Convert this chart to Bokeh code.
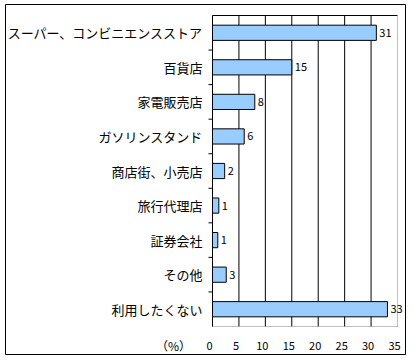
from bokeh.plotting import figure
from bokeh.models import ColumnDataSource, Range1d
from bokeh.core.properties import value
from bokeh.embed import file_html
from bokeh.resources import INLINE

categories = ["スーパー、コンビニエンスストア", "百貨店", "家電販売店", "ガソリンスタンド",
              "商店街、小売店", "旅行代理店", "証券会社", "その他", "利用したくない"]
values = [31.0, 15.0, 8.0, 6.0, 2.3, 1.2, 1.0, 2.6, 33.1]
value_labels = ["31", "15", "8", "6", "2", "1", "1", "3", "33"]
x_ticks = [0, 5, 10, 15, 20, 25, 30, 35]
x_tick_labels = ["0", "5", "10", "15", "20", "25", "30", "35"]
unit_label = "（%）"

JP = "Noto Sans CJK JP"

# layout
W, H = 406, 355
ML, MT, MR, MB = 5, 4, 1, 1
FW, FH = W - ML - MR, H - MT - MB
PX_L, PX_R = 207, 392     # frame x of 0 and of 35
PX_T, PX_B = 11, 322      # frame y of top and bottom of the category band
XMAX = x_ticks[-1]
n = len(categories)
Sx = (PX_R - PX_L) / XMAX
Sy = (PX_B - PX_T) / n

x_range = Range1d(-PX_L / Sx, XMAX + (FW - PX_R) / Sx)
y_range = Range1d(n + (FH - PX_B) / Sy, -PX_T / Sy)

p = figure(width=W, height=H, output_backend="svg", toolbar_location=None,
           x_range=x_range, y_range=y_range,
           min_border_left=ML, min_border_right=MR, min_border_top=MT, min_border_bottom=MB)
p.axis.visible = False
p.grid.visible = False
p.outline_line_color = "black"
p.outline_line_width = 1
p.background_fill_color = "white"
p.border_fill_color = "white"

centers = [i + 0.5 for i in range(n)]
src = ColumnDataSource(dict(y=centers, v=values, lab=value_labels, cat=categories))

# grid lines
grid_x = x_ticks[1:-1]
p.segment(x0=grid_x, x1=grid_x, y0=[0] * len(grid_x), y1=[n] * len(grid_x),
          line_color="black", line_width=1)
# top border (black), right & bottom border (grey dotted)
p.segment(x0=[0], x1=[XMAX], y0=[0], y1=[0], line_color="black", line_width=1)
p.segment(x0=[0], x1=[XMAX], y0=[n], y1=[n], line_color="#808080", line_width=1, line_dash="1 1")
p.segment(x0=[XMAX], x1=[XMAX], y0=[0], y1=[n], line_color="#808080", line_width=1, line_dash="1 1")
# category axis line and boundary ticks
p.segment(x0=[0], x1=[0], y0=[0], y1=[n], line_color="black", line_width=1)
bounds = list(range(1, n))
p.segment(x0=[-4 / Sx] * len(bounds), x1=[0] * len(bounds), y0=bounds, y1=bounds,
          line_color="black", line_width=1)

# bars
p.hbar(y="y", left=0, right="v", height=0.44, source=src,
       fill_color="#99CCFF", line_color="black", line_width=1)

# value labels
p.text(x="v", y="y", text="lab", source=src, x_offset=3,
       text_font=value(JP), text_font_size="11px", text_align="left",
       text_baseline="middle", text_color="black")

# category labels
p.text(x=0, y="y", text="cat", source=src, x_offset=-10,
       text_font=value(JP), text_font_size="13px", text_align="right",
       text_baseline="middle", text_color="black")

# x tick labels
tick_y = n + 19 / Sy
p.text(x=x_ticks, y=[tick_y] * len(x_ticks), text=x_tick_labels, x_offset=-3,
       text_font=value(JP), text_font_size="11px", text_align="center",
       text_baseline="middle", text_color="black")

# unit label
p.text(x=[-39 / Sx], y=[tick_y], text=[unit_label],
       text_font=value(JP), text_font_size="12px", text_align="center",
       text_baseline="middle", text_color="black")

open("out.html", "w").write(file_html(p, INLINE))
